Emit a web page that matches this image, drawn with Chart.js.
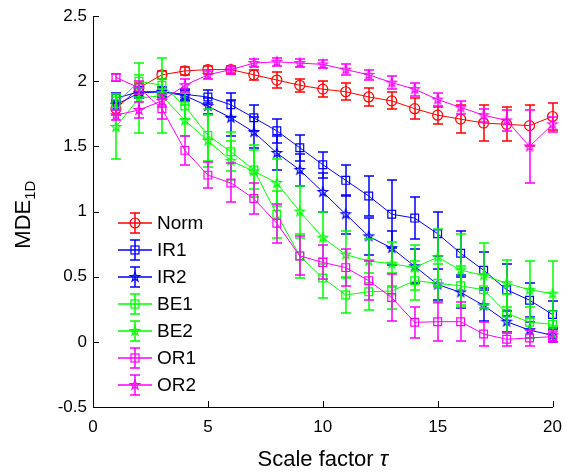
<!DOCTYPE html>
<html lang="en">
<head>
  <meta charset="UTF-8">
  <title>MDE vs scale factor</title>
  <script src="https://cdn.jsdelivr.net/npm/chart.js"></script>
  <style>
    body { margin: 0; background: #fff; }
    #wrap { width: 572px; height: 473px; }
  </style>
</head>
<body>
  <div id="wrap"><canvas id="graph" width="572" height="473"></canvas></div>

  <script>
    // values, x = scale factor 1..20
    const scaleFactors = [1, 2, 3, 4, 5, 6, 7, 8, 9, 10, 11, 12, 13, 14, 15, 16, 17, 18, 19, 20];
    const xTicks = [0, 5, 10, 15, 20];
    const xTickLabels = ['0', '5', '10', '15', '20'];
    const yTicks = [-0.5, 0, 0.5, 1, 1.5, 2, 2.5];
    const yTickLabels = ['-0.5', '0', '0.5', '1', '1.5', '2', '2.5'];

    const norm    = [1.79, 1.95, 2.05, 2.08, 2.09, 2.09, 2.05, 2.01, 1.97, 1.94, 1.92, 1.88, 1.85, 1.79, 1.74, 1.71, 1.68, 1.67, 1.66, 1.73];
    const normErr = [0.05, 0.04, 0.03, 0.03, 0.03, 0.03, 0.04, 0.06, 0.05, 0.06, 0.065, 0.07, 0.065, 0.08, 0.065, 0.11, 0.14, 0.13, 0.16, 0.10];

    const ir1    = [1.87, 1.92, 1.92, 1.90, 1.88, 1.82, 1.72, 1.62, 1.49, 1.36, 1.24, 1.12, 0.98, 0.95, 0.83, 0.68, 0.55, 0.40, 0.32, 0.21];
    const ir1Err = [0.04, 0.04, 0.04, 0.04, 0.05, 0.09, 0.10, 0.09, 0.10, 0.10, 0.12, 0.15, 0.26, 0.16, 0.17, 0.17, 0.14, 0.20, 0.13, 0.10];

    const ir2    = [1.82, 1.91, 1.92, 1.89, 1.81, 1.72, 1.61, 1.45, 1.32, 1.15, 0.98, 0.81, 0.72, 0.58, 0.44, 0.38, 0.28, 0.155, 0.09, 0.05];
    const ir2Err = [0.04, 0.04, 0.04, 0.04, 0.06, 0.14, 0.12, 0.13, 0.12, 0.15, 0.15, 0.14, 0.13, 0.13, 0.12, 0.12, 0.12, 0.08, 0.06, 0.05];

    const be1    = [1.83, 2.00, 1.97, 1.81, 1.585, 1.46, 1.32, 0.98, 0.66, 0.49, 0.36, 0.385, 0.39, 0.47, 0.45, 0.43, 0.40, 0.22, 0.15, 0.135];
    const be1Err = [0.05, 0.05, 0.05, 0.10, 0.20, 0.15, 0.15, 0.18, 0.17, 0.15, 0.14, 0.14, 0.14, 0.15, 0.15, 0.15, 0.12, 0.15, 0.12, 0.10];

    const be2    = [1.65, 1.87, 1.89, 1.70, 1.545, 1.39, 1.31, 1.22, 1.00, 0.80, 0.67, 0.62, 0.60, 0.57, 0.65, 0.55, 0.51, 0.45, 0.40, 0.37];
    const be2Err = [0.25, 0.27, 0.29, 0.12, 0.20, 0.15, 0.20, 0.18, 0.20, 0.20, 0.18, 0.17, 0.17, 0.17, 0.22, 0.28, 0.25, 0.18, 0.22, 0.25];

    const or1    = [2.03, 1.95, 1.79, 1.47, 1.28, 1.22, 1.10, 0.91, 0.66, 0.61, 0.57, 0.47, 0.34, 0.15, 0.155, 0.155, 0.06, 0.02, 0.03, 0.04];
    const or1Err = [0.03, 0.05, 0.08, 0.11, 0.10, 0.15, 0.12, 0.15, 0.15, 0.13, 0.14, 0.15, 0.18, 0.12, 0.15, 0.15, 0.09, 0.05, 0.06, 0.04];

    const or2    = [1.74, 1.78, 1.85, 1.97, 2.05, 2.09, 2.14, 2.15, 2.14, 2.13, 2.09, 2.05, 1.99, 1.94, 1.86, 1.80, 1.74, 1.70, 1.50, 1.67];
    const or2Err = [0.04, 0.06, 0.05, 0.05, 0.03, 0.03, 0.03, 0.03, 0.03, 0.03, 0.04, 0.04, 0.05, 0.05, 0.05, 0.05, 0.05, 0.08, 0.28, 0.06];

    const FONT = '"Liberation Sans", Arial, sans-serif';

    // hollow pentagram marker as an image
    function pentagram(color, r) {
      const s = Math.ceil(r * 2 + 4);
      const c = document.createElement('canvas');
      c.width = s; c.height = s;
      const g = c.getContext('2d');
      g.strokeStyle = color;
      g.lineWidth = 1.2;
      g.beginPath();
      for (let i = 0; i < 10; i++) {
        const rad = i % 2 === 0 ? r : r * 0.4;
        const a = -Math.PI / 2 + i * Math.PI / 5;
        const px = s / 2 + rad * Math.cos(a), py = s / 2 + rad * Math.sin(a);
        if (i === 0) g.moveTo(px, py); else g.lineTo(px, py);
      }
      g.closePath();
      g.stroke();
      return c;
    }

    const series = [
      { label: 'Norm', values: norm, err: normErr, color: '#ff0000', marker: 'circle' },
      { label: 'IR1',  values: ir1,  err: ir1Err,  color: '#0000ff', marker: 'rect' },
      { label: 'IR2',  values: ir2,  err: ir2Err,  color: '#0000ff', marker: 'star' },
      { label: 'BE1',  values: be1,  err: be1Err,  color: '#00ff00', marker: 'rect' },
      { label: 'BE2',  values: be2,  err: be2Err,  color: '#00ff00', marker: 'star' },
      { label: 'OR1',  values: or1,  err: or1Err,  color: '#ff00ff', marker: 'rect' },
      { label: 'OR2',  values: or2,  err: or2Err,  color: '#ff00ff', marker: 'star' }
    ];

    function pointOpts(s) {
      if (s.marker === 'circle') return { pointStyle: 'circle', pointRadius: 5 };
      if (s.marker === 'rect') return { pointStyle: 'rect', pointRadius: 5.5 };
      return { pointStyle: pentagram(s.color, 5), pointRadius: 5 };
    }

    const datasets = series.map((s, i) => Object.assign({
      label: s.label,
      data: scaleFactors.map((x, k) => ({ x: x, y: s.values[k] })),
      borderColor: s.color,
      borderWidth: 1,
      pointBorderColor: s.color,
      pointBackgroundColor: 'rgba(0,0,0,0)',
      pointBorderWidth: 1.2,
      showLine: true,
      fill: false,
      clip: false,
      order: series.length - 1 - i
    }, pointOpts(s)));

    // vertical error bars with caps, drawn before each series' line
    const errorBars = {
      id: 'errorBars',
      beforeDatasetDraw(chart, args) {
        const s = series[args.index];
        const xs = chart.scales.x, ys = chart.scales.y;
        const ctx = chart.ctx;
        ctx.save();
        ctx.lineWidth = 1.5;
        ctx.strokeStyle = s.color;
        ctx.beginPath();
        scaleFactors.forEach((xv, k) => {
          const v = s.values[k], e = s.err[k];
          const top = Math.round(ys.getPixelForValue(v + e));
          const bot = Math.round(ys.getPixelForValue(v - e));
          const x = Math.round(xs.getPixelForValue(xv));
          ctx.moveTo(x, top); ctx.lineTo(x, bot);
          ctx.moveTo(x - 5, top); ctx.lineTo(x + 5, top);
          ctx.moveTo(x - 5, bot); ctx.lineTo(x + 5, bot);
        });
        ctx.stroke();
        ctx.restore();
      }
    };

    // inward ticks, axis titles and the legend inside the plot
    const decorations = {
      id: 'decorations',
      afterDraw(chart) {
        const ctx = chart.ctx;
        const area = chart.chartArea;
        const xs = chart.scales.x, ys = chart.scales.y;
        ctx.save();
        ctx.strokeStyle = '#000';
        ctx.lineWidth = 1;
        ctx.beginPath();
        xTicks.forEach(t => {
          const px = Math.round(xs.getPixelForValue(t)) + 0.5;
          ctx.moveTo(px, area.bottom); ctx.lineTo(px, area.bottom - 6);
        });
        yTicks.forEach(t => {
          const py = Math.round(ys.getPixelForValue(t)) + 0.5;
          ctx.moveTo(area.left, py); ctx.lineTo(area.left + 6, py);
        });
        ctx.stroke();

        // x title
        ctx.fillStyle = '#000';
        ctx.textBaseline = 'alphabetic';
        ctx.font = '22px ' + FONT;
        const t1 = 'Scale factor ';
        const w1 = ctx.measureText(t1).width;
        ctx.font = 'italic 22px ' + FONT;
        const w2 = ctx.measureText('\u03c4').width;
        const sx = (area.left + area.right) / 2 - (w1 + w2) / 2;
        ctx.font = '22px ' + FONT;
        ctx.fillText(t1, sx, 466);
        ctx.font = 'italic 22px ' + FONT;
        ctx.fillText('\u03c4', sx + w1, 466);

        // y title with subscript
        ctx.translate(30, (area.top + area.bottom) / 2 + 3);
        ctx.rotate(-Math.PI / 2);
        ctx.font = '22px ' + FONT;
        const m = ctx.measureText('MDE').width;
        ctx.font = '15px ' + FONT;
        const sub = ctx.measureText('1D').width;
        const start = -(m + sub) / 2;
        ctx.font = '22px ' + FONT;
        ctx.fillText('MDE', start, 0);
        ctx.font = '15px ' + FONT;
        ctx.fillText('1D', start + m, 5);
        ctx.setTransform(1, 0, 0, 1, 0, 0);

        // legend
        ctx.font = '19px ' + FONT;
        ctx.textBaseline = 'middle';
        series.forEach((s, i) => {
          const y = Math.round(area.top + 206.5 + i * 27);
          const cx = area.left + 42;
          ctx.strokeStyle = s.color;
          ctx.lineWidth = 1.5;
          ctx.beginPath();
          ctx.moveTo(area.left + 25, y); ctx.lineTo(area.left + 59, y);
          ctx.moveTo(cx, y - 10); ctx.lineTo(cx, y + 10);
          ctx.moveTo(cx - 5, y - 10); ctx.lineTo(cx + 5, y - 10);
          ctx.moveTo(cx - 5, y + 10); ctx.lineTo(cx + 5, y + 10);
          ctx.stroke();
          ctx.lineWidth = 1.2;
          if (s.marker === 'circle') {
            ctx.beginPath(); ctx.arc(cx, y, 5, 0, Math.PI * 2); ctx.stroke();
          } else if (s.marker === 'rect') {
            ctx.strokeRect(cx - 4, y - 4, 8, 8);
          } else {
            const img = pentagram(s.color, 5);
            ctx.drawImage(img, cx - img.width / 2, y - img.height / 2);
          }
          ctx.fillStyle = '#000';
          ctx.fillText(s.label, area.left + 64, y + 1);
        });
        ctx.restore();
      }
    };

    new Chart(document.getElementById('graph').getContext('2d'), {
      type: 'line',
      data: { datasets: datasets },
      plugins: [errorBars, decorations],
      options: {
        responsive: false,
        animation: false,
        devicePixelRatio: 1,
        layout: { padding: { top: 15, right: 10, left: 0, bottom: 0 } },
        plugins: { legend: { display: false }, tooltip: { enabled: false } },
        scales: {
          x: {
            type: 'linear', min: 0, max: 20,
            grid: { display: false, drawTicks: false },
            border: { display: true, color: '#000', width: 1 },
            afterBuildTicks: sc => { sc.ticks = xTicks.map(v => ({ value: v })); },
            afterFit: sc => { sc.height = 66; },
            ticks: {
              color: '#000', font: { family: FONT, size: 17 }, padding: 10, maxRotation: 0,
              callback: (v, i) => xTickLabels[i]
            }
          },
          y: {
            type: 'linear', min: -0.5, max: 2.5,
            grid: { display: false, drawTicks: false },
            border: { display: true, color: '#000', width: 1 },
            afterBuildTicks: sc => { sc.ticks = yTicks.map(v => ({ value: v })); },
            afterFit: sc => { sc.width = 93; },
            ticks: {
              color: '#000', font: { family: FONT, size: 17 }, padding: 6,
              callback: (v, i) => yTickLabels[i]
            }
          }
        }
      }
    });
  </script>
</body>
</html>
